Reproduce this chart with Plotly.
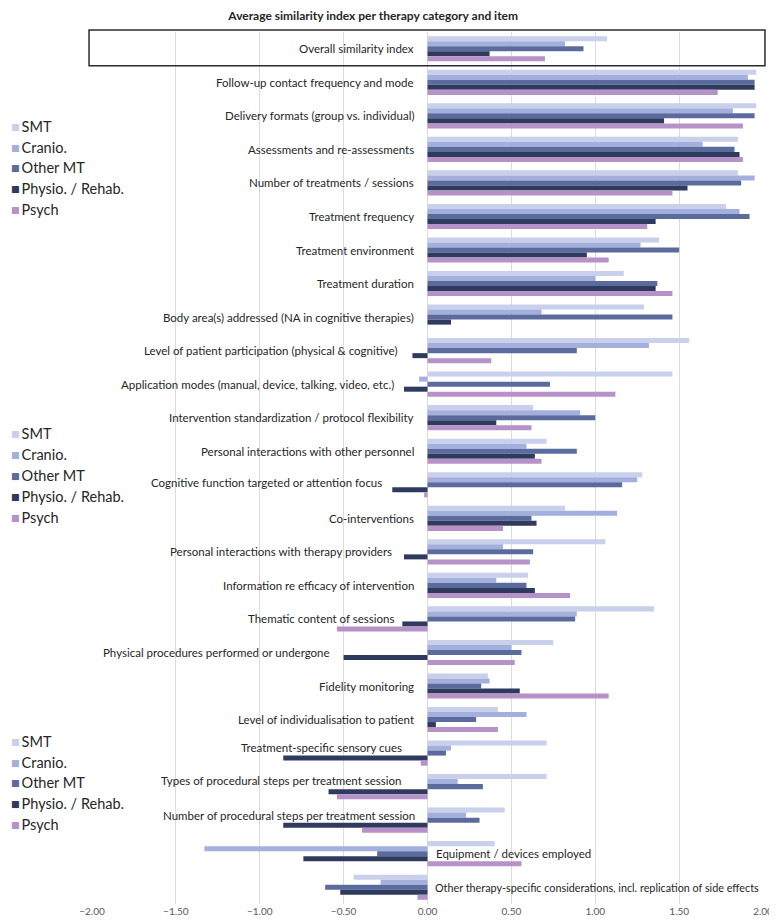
import plotly.graph_objects as go

# items, top to bottom
items = [
    "Overall similarity index",
    "Follow-up contact frequency and mode",
    "Delivery formats (group vs. individual)",
    "Assessments and re-assessments",
    "Number of treatments / sessions",
    "Treatment frequency",
    "Treatment environment",
    "Treatment duration",
    "Body area(s) addressed (NA in cognitive therapies)",
    "Level of patient participation (physical & cognitive)",
    "Application modes (manual, device, talking, video, etc.)",
    "Intervention standardization / protocol flexibility",
    "Personal interactions with other personnel",
    "Cognitive function targeted or attention focus",
    "Co-interventions",
    "Personal interactions with therapy providers",
    "Information re efficacy of intervention",
    "Thematic content of sessions",
    "Physical procedures performed or undergone",
    "Fidelity monitoring",
    "Level of individualisation to patient",
    "Treatment-specific sensory cues",
    "Types of procedural steps per treatment session",
    "Number of procedural steps per treatment session",
    "Equipment / devices employed",
    "Other therapy-specific considerations, incl. replication of side effects",
]

series = ["SMT", "Cranio.", "Other MT", "Physio. / Rehab.", "Psych"]

smt = [1.07, 1.96, 1.96, 1.85, 1.85, 1.78, 1.38, 1.17, 1.29, 1.56, 1.46, 0.63, 0.71,
       1.28, 0.82, 1.06, 0.60, 1.35, 0.75, 0.36, 0.42, 0.71, 0.71, 0.46, 0.40, -0.44]
cranio = [0.82, 1.91, 1.82, 1.64, 1.95, 1.86, 1.27, 1.00, 0.68, 1.32, -0.05, 0.91, 0.59,
          1.25, 1.13, 0.45, 0.41, 0.89, 0.50, 0.37, 0.59, 0.14, 0.18, 0.23, -1.33, -0.28]
other_mt = [0.93, 1.95, 1.95, 1.83, 1.87, 1.92, 1.50, 1.37, 1.46, 0.89, 0.73, 1.00, 0.89,
            1.16, 0.62, 0.63, 0.59, 0.88, 0.56, 0.32, 0.29, 0.11, 0.33, 0.31, -0.30, -0.61]
physio = [0.37, 1.95, 1.41, 1.86, 1.55, 1.36, 0.95, 1.36, 0.14, -0.09, -0.14, 0.41, 0.64,
          -0.21, 0.65, -0.14, 0.64, -0.15, -0.50, 0.55, 0.05, -0.86, -0.59, -0.86, -0.74, -0.52]
psych = [0.70, 1.73, 1.88, 1.88, 1.46, 1.31, 1.08, 1.46, None, 0.38, 1.12, 0.62, 0.68,
         -0.02, 0.45, 0.61, 0.85, -0.54, 0.52, 1.08, 0.42, -0.04, -0.54, -0.39, 0.56, -0.06]

tick_vals = [-2.0, -1.5, -1.0, -0.5, 0.0, 0.5, 1.0, 1.5, 2.0]

colors = ["#c8d0eb", "#a3b0dd", "#5b6b9e", "#2f3a5f", "#b792c8"]
font = "Lato"

W, H = 777, 921
M_L, M_R, M_T, M_B = 84, 12, 24, 18
PH = H - M_T - M_B


def py(pix):
    # pixel row -> paper y
    return (H - M_B - pix) / PH


def px(pix):
    return (pix - M_L) / (W - M_L - M_R)


fig = go.Figure()
for name, vals, col in zip(series, [smt, cranio, other_mt, physio, psych], colors):
    fig.add_trace(go.Bar(
        x=vals, y=items, name=name, orientation="h",
        marker=dict(color=col, line=dict(width=0)),
        showlegend=False,
    ))

# item labels next to the zero line: (x position, anchor, vertical shift, size)
label_pos = {
    "Level of patient participation (physical & cognitive)": (-0.165, "right", 0, 11.5),
    "Application modes (manual, device, talking, video, etc.)": (-0.19, "right", 0, 11.5),
    "Cognitive function targeted or attention focus": (-0.26, "right", 2, 11.5),
    "Personal interactions with therapy providers": (-0.2, "right", 0, 11.5),
    "Thematic content of sessions": (-0.19, "right", 0, 11.5),
    "Physical procedures performed or undergone": (-0.57, "right", 0, 11.5),
    "Treatment-specific sensory cues": (-0.14, "right", 6, 11.5),
    "Types of procedural steps per treatment session": (-0.14, "right", 6, 11.5),
    "Number of procedural steps per treatment session": (-0.06, "right", 5, 11.5),
    "Equipment / devices employed": (0.04, "left", 0, 11.5),
    "Other therapy-specific considerations, incl. replication of side effects": (0.035, "left", 0, 10.8),
}
for it in items:
    lx, anc, sh, fs = label_pos.get(it, (-0.07, "right", 0, 11.5))
    fig.add_annotation(x=lx, y=it, text=it, showarrow=False, xanchor=anc,
                       yshift=sh, font=dict(family=font, size=fs, color="#262626"))

# legend copies on the left
for top in [119, 429, 739]:
    for k, (name, col) in enumerate(zip(series, colors)):
        fig.add_annotation(
            xref="paper", yref="paper", x=px(0), y=py(top + 21 * k),
            text=f"<span style='color:{col}'>■</span>&#8201;{name}",
            showarrow=False, xanchor="left", yanchor="middle",
            font=dict(family=font, size=14.5, color="#262626"),
        )

# frame around the overall index row
fig.add_shape(type="rect", xref="paper", yref="paper",
              x0=px(81), x1=px(767), y0=py(58), y1=py(22),
              line=dict(color="#2b2b2b", width=1.5))

fig.update_layout(
    width=W, height=H,
    barmode="group", bargap=0.25, bargroupgap=0,
    plot_bgcolor="white", paper_bgcolor="white",
    margin=dict(l=M_L, r=M_R, t=M_T, b=M_B),
    title=dict(text="<b>Average similarity index per therapy category and item</b>",
               x=0.47, xanchor="center", y=1 - 8 / H, yanchor="middle",
               font=dict(family=font, size=12, color="#262626")),
    xaxis=dict(range=[-2, 2], tickvals=tick_vals, tickformat=".2f",
               showgrid=True, gridcolor="#dcdcdc", gridwidth=1,
               zeroline=False, showline=False, ticks="",
               tickfont=dict(family=font, size=10, color="#595959")),
    yaxis=dict(autorange="reversed", showticklabels=False, showgrid=False,
               zeroline=False, showline=False, ticks=""),
)

fig.write_html("out.html")
